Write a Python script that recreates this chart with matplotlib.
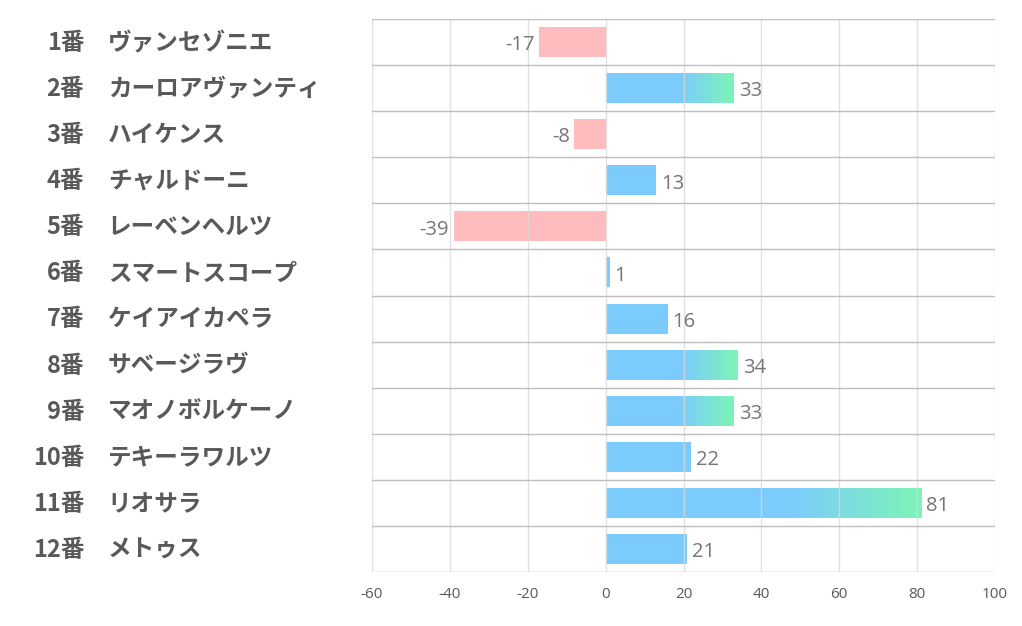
import matplotlib
matplotlib.use("Agg")
import matplotlib.pyplot as plt
import numpy as np
from matplotlib.colors import LinearSegmentedColormap

numbers = ["1番", "2番", "3番", "4番", "5番", "6番", "7番", "8番", "9番", "10番", "11番", "12番"]
names = ["ヴァンセゾニエ", "カーロアヴァンティ", "ハイケンス", "チャルドーニ", "レーベンヘルツ",
         "スマートスコープ", "ケイアイカペラ", "サベージラヴ", "マオノボルケーノ", "テキーラワルツ",
         "リオサラ", "メトゥス"]
values = [-17, 33, -8, 13, -39, 1, 16, 34, 33, 22, 81, 21]
xticks = [-60, -40, -20, 0, 20, 40, 60, 80, 100]

BLUE = "#7ccbfd"
GREEN = "#7df5b6"
PINK = "#ffbbbe"
cmap = LinearSegmentedColormap.from_list("bg", [BLUE, GREEN])

fig = plt.figure(figsize=(10.22, 6.26), dpi=100)
ax = fig.add_axes([372/1022, 1-572/626, (995-372)/1022, (572-19)/626])

n = len(values)
bh = 0.65
jp = ["Noto Sans CJK JP", "DejaVu Sans"]

for i, v in enumerate(values):
    if v < 0:
        ax.barh(i, v, height=bh, color=PINK, zorder=1)
        ax.text(v - 1.2, i + 0.07, str(v), ha="right", va="center", fontsize=14.5,
                color="#767676", family="Open Sans")
    else:
        if v >= 30:
            s = 0.58 * v
            ax.barh(i, s, height=bh, color=BLUE, zorder=1)
            grad = np.linspace(0, 1, 256).reshape(1, -1)
            ax.imshow(grad, cmap=cmap, extent=[s, v, i + bh/2, i - bh/2],
                      aspect="auto", zorder=1, interpolation="bilinear")
        else:
            ax.barh(i, v, height=bh, color=BLUE, zorder=1)
        ax.text(v + 1.2, i + 0.07, str(v), ha="left", va="center", fontsize=14.5,
                color="#767676", family="Open Sans")

ax.set_xlim(-60, 100)
ax.set_ylim(n - 0.5, -0.5)

for x in xticks:
    ax.axvline(x, color="#d9d9d9", lw=1, zorder=2, alpha=0.8)
for k in range(n + 1):
    ax.axhline(k - 0.5, color="#bfbfbf", lw=1, zorder=2)

for sp in ax.spines.values():
    sp.set_visible(False)
ax.set_yticks([])
ax.set_xticks(xticks)
ax.set_xticklabels([str(t) for t in xticks], fontsize=11, color="#595959", family="Open Sans")
ax.tick_params(axis="x", length=0, pad=11)

for i in range(n):
    ax.text(-0.462, i + 0.02, numbers[i], transform=ax.get_yaxis_transform(), ha="right", va="center",
            fontsize=17, fontweight="bold", color="#595959", family=jp)
    ax.text(-0.424, i + 0.02, names[i], transform=ax.get_yaxis_transform(), ha="left", va="center",
            fontsize=17, fontweight="bold", color="#595959", family=jp)

fig.savefig("out.png", dpi=100)
